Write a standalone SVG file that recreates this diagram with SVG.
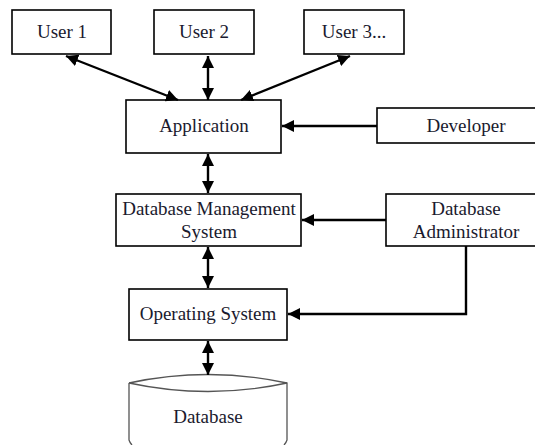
<svg xmlns="http://www.w3.org/2000/svg" width="535" height="445" viewBox="0 0 535 445">
<style>
.box{fill:#fff;stroke:#000;stroke-width:1.6}
.t{font-family:"Liberation Serif","Times New Roman",serif;font-size:19px;fill:#1a1a2e;text-anchor:middle}
.c{fill:none;stroke:#000;stroke-width:2.4}
</style>
<defs>
<marker id="ah" markerUnits="userSpaceOnUse" markerWidth="14" markerHeight="12" refX="12" refY="6" orient="auto-start-reverse">
<path d="M0,0 L12,6 L0,12 Z" fill="#000"/>
</marker>
</defs>
<rect width="535" height="445" fill="#fff"/>
<g id="user1"><rect class="box" x="12" y="10" width="99" height="44"/><text class="t" x="62" y="38">User 1</text></g>
<g id="user2"><rect class="box" x="154" y="10" width="100" height="44"/><text class="t" x="204" y="38">User 2</text></g>
<g id="user3"><rect class="box" x="304" y="10" width="100" height="44"/><text class="t" x="354" y="38">User 3...</text></g>
<g id="application"><rect class="box" x="126" y="100" width="155" height="53"/><text class="t" x="204" y="132">Application</text></g>
<g id="developer"><rect class="box" x="377" y="108" width="162" height="35"/><text class="t" x="466" y="132">Developer</text></g>
<g id="dbms"><rect class="box" x="116" y="194" width="185" height="52"/><text class="t" x="209" y="215">Database Management</text><text class="t" x="209" y="238">System</text></g>
<g id="dba"><rect class="box" x="386" y="194" width="153" height="52"/><text class="t" x="466" y="215">Database</text><text class="t" x="466" y="238">Administrator</text></g>
<g id="os"><rect class="box" x="129" y="289" width="158" height="51"/><text class="t" x="208" y="320">Operating System</text></g>
<g id="database">
<path d="M129,383 Q208,366 287,383 L287,440 Q286,443 284,445 M129,383 L129,440 Q130,443 132,445" fill="#fff" stroke="#555" stroke-width="1.3"/>
<path d="M129,383 Q208,400 287,383" fill="none" stroke="#555" stroke-width="1.3"/>
<text class="t" x="208" y="423">Database</text>
</g>
<g id="connectors">
<path class="c" d="M66,56 L178,100" marker-start="url(#ah)" marker-end="url(#ah)"/>
<path class="c" d="M208,56 L208,100" marker-start="url(#ah)" marker-end="url(#ah)"/>
<path class="c" d="M350,56 L241,100" marker-start="url(#ah)" marker-end="url(#ah)"/>
<path class="c" d="M377,126 L282,126" marker-end="url(#ah)"/>
<path class="c" d="M208,154 L208,193" marker-start="url(#ah)" marker-end="url(#ah)"/>
<path class="c" d="M386,220 L302,220" marker-end="url(#ah)"/>
<path class="c" d="M208,247 L208,288" marker-start="url(#ah)" marker-end="url(#ah)"/>
<path class="c" d="M466,246 L466,314 L288,314" marker-end="url(#ah)"/>
<path class="c" d="M208,341 L208,375" marker-start="url(#ah)" marker-end="url(#ah)"/>
</g>
</svg>
